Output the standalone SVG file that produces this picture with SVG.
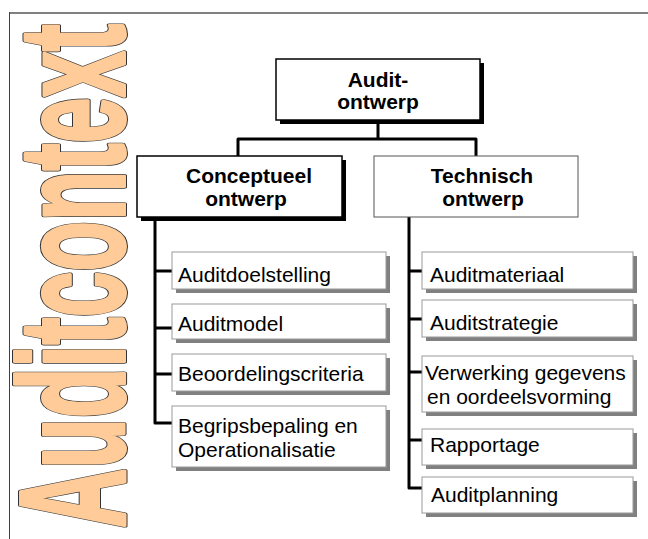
<svg xmlns="http://www.w3.org/2000/svg" width="648" height="539" viewBox="0 0 648 539">
<defs>
<style>
.main{fill:#fff;stroke:#000;stroke-width:1.5}
.mainsh{fill:#000}
.tech{fill:#fff;stroke:#555;stroke-width:1}
.leaf{fill:#fff;stroke:#999;stroke-width:1}
.leafsh{fill:#808080}
.bt{font-family:"Liberation Sans",Arial,sans-serif;font-weight:bold;font-size:21px;fill:#000;text-anchor:middle}
.lt{font-family:"Liberation Sans",Arial,sans-serif;font-size:21px;fill:#000}
.conn{fill:none;stroke:#000;stroke-width:3;stroke-linejoin:round}
.wa{font-family:"Liberation Sans",Arial,sans-serif;font-weight:bold;font-size:151px}
.wa-out{fill:#333;stroke:#333;stroke-width:6;stroke-linejoin:round}
.wa-in{fill:#FFCC99;stroke:#FFCC99;stroke-width:4;stroke-linejoin:round}
</style>
</defs>
<rect width="648" height="539" fill="#fff"/>
<line x1="9" y1="13" x2="648" y2="13" stroke="#808080" stroke-width="2"/>
<line x1="9.5" y1="12" x2="9.5" y2="539" stroke="#404040" stroke-width="1"/>
<g id="wordart">
<text class="wa wa-out" transform="translate(124,528) rotate(-90)" textLength="504" lengthAdjust="spacingAndGlyphs">Auditcontext</text>
<text class="wa wa-in" transform="translate(124,528) rotate(-90)" textLength="504" lengthAdjust="spacingAndGlyphs">Auditcontext</text>
</g>

<g id="connectors">
<path class="conn" d="M378,120 V139"/>
<path class="conn" d="M238,156 V139 H476 V156"/>
<path class="conn" d="M155,217 V423 H172"/>
<path class="conn" d="M155,271 H172 M155,328 H172 M155,374 H172"/>
<path class="conn" d="M409,217 V488 H422"/>
<path class="conn" d="M409,271 H422 M409,319 H422 M409,372 H422 M409,440 H422"/>
</g>

<g id="audit-ontwerp">
<rect class="mainsh" x="280" y="63" width="204" height="61"/>
<rect class="main" x="276" y="59" width="204" height="61"/>
<text class="bt" x="378" y="87">Audit-</text>
<text class="bt" x="378" y="109">ontwerp</text>
</g>

<g id="conceptueel-ontwerp">
<rect class="mainsh" x="141" y="160" width="205" height="61"/>
<rect class="main" x="137" y="156" width="205" height="61"/>
<text class="bt" x="249" y="183">Conceptueel</text>
<text class="bt" x="246" y="206">ontwerp</text>
</g>

<g id="technisch-ontwerp">
<rect class="tech" x="374" y="156" width="204" height="61"/>
<text class="bt" x="482" y="183">Technisch</text>
<text class="bt" x="483" y="206">ontwerp</text>
</g>

<g id="auditdoelstelling">
<rect class="leafsh" x="176" y="256" width="214" height="37"/>
<rect class="leaf" x="172" y="252" width="214" height="37"/>
<text class="lt" x="178" y="282">Auditdoelstelling</text>
</g>
<g id="auditmodel">
<rect class="leafsh" x="176" y="308" width="214" height="35"/>
<rect class="leaf" x="172" y="304" width="214" height="35"/>
<text class="lt" x="178" y="331">Auditmodel</text>
</g>
<g id="beoordelingscriteria">
<rect class="leafsh" x="176" y="358" width="214" height="37"/>
<rect class="leaf" x="172" y="354" width="214" height="37"/>
<text class="lt" x="178" y="381">Beoordelingscriteria</text>
</g>
<g id="begripsbepaling">
<rect class="leafsh" x="176" y="410" width="214" height="61"/>
<rect class="leaf" x="172" y="406" width="214" height="61"/>
<text class="lt" x="178" y="433">Begripsbepaling en</text>
<text class="lt" x="178" y="457">Operationalisatie</text>
</g>

<g id="auditmateriaal">
<rect class="leafsh" x="426" y="256" width="211" height="37"/>
<rect class="leaf" x="422" y="252" width="211" height="37"/>
<text class="lt" x="430" y="282">Auditmateriaal</text>
</g>
<g id="auditstrategie">
<rect class="leafsh" x="426" y="304" width="211" height="37"/>
<rect class="leaf" x="422" y="300" width="211" height="37"/>
<text class="lt" x="430" y="330">Auditstrategie</text>
</g>
<g id="verwerking">
<rect class="leafsh" x="426" y="360" width="211" height="56"/>
<rect class="leaf" x="422" y="356" width="211" height="56"/>
<text class="lt" x="425" y="380">Verwerking gegevens</text>
<text class="lt" x="427" y="404">en oordeelsvorming</text>
</g>
<g id="rapportage">
<rect class="leafsh" x="426" y="433" width="211" height="36"/>
<rect class="leaf" x="422" y="429" width="211" height="36"/>
<text class="lt" x="430" y="452">Rapportage</text>
</g>
<g id="auditplanning">
<rect class="leafsh" x="426" y="481" width="211" height="36"/>
<rect class="leaf" x="422" y="477" width="211" height="36"/>
<text class="lt" x="431" y="502">Auditplanning</text>
</g>
</svg>
